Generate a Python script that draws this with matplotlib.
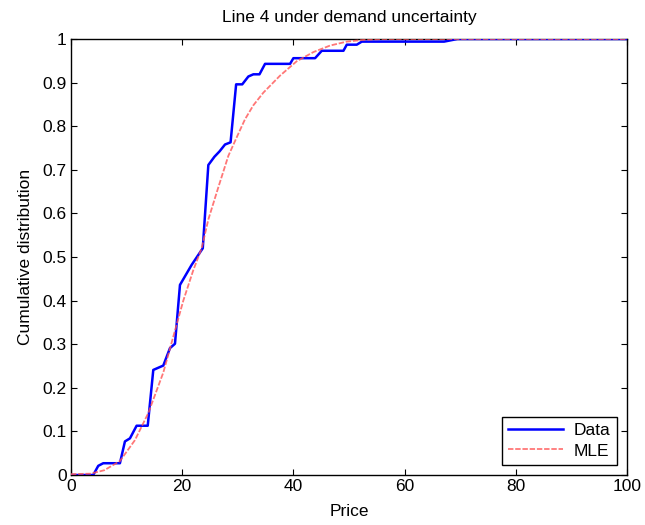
import matplotlib
matplotlib.use("Agg")
import matplotlib.pyplot as plt

plt.rcParams['font.family'] = ['Liberation Sans', 'DejaVu Sans']

# Empirical CDF (Data)
data_price = [0, 4.0, 4.9, 5.8, 8.8, 9.7, 10.6, 11.8, 13.8, 14.8, 16.6, 17.8, 18.7,
              19.6, 21.7, 23.7, 24.7, 25.8, 26.7, 27.7, 28.7, 29.7, 30.8, 31.9, 32.8,
              33.9, 34.9, 39.4, 40.0, 43.9, 45.1, 49.0, 49.6, 51.4, 52.3, 67.1, 69.5, 100]
data_cdf = [0, 0, 0.021, 0.027, 0.027, 0.077, 0.084, 0.113, 0.113, 0.241, 0.251, 0.291, 0.301,
            0.436, 0.482, 0.52, 0.711, 0.73, 0.742, 0.758, 0.763, 0.896, 0.896, 0.914, 0.919,
            0.919, 0.943, 0.943, 0.956, 0.956, 0.973, 0.973, 0.987, 0.987, 0.994, 0.994, 1.0, 1.0]

# Fitted CDF (MLE)
mle_price = [0, 3.5, 6.0, 8.8, 11.5, 13.9, 16.6, 19.0, 20.2, 22.0, 23.5, 24.7, 26.5,
             28.3, 30.0, 31.3, 32.8, 34.6, 37.6, 40.6, 43.6, 46.6, 49.6, 52.6, 56.0, 100]
mle_cdf = [0.002, 0.003, 0.011, 0.032, 0.08, 0.142, 0.235, 0.345, 0.40, 0.47, 0.52, 0.586, 0.66,
           0.732, 0.78, 0.816, 0.848, 0.877, 0.916, 0.949, 0.97, 0.985, 0.994, 0.998, 1.0, 1.0]

x_ticks = [0, 20, 40, 60, 80, 100]
y_ticks = [0, 0.1, 0.2, 0.3, 0.4, 0.5, 0.6, 0.7, 0.8, 0.9, 1]
y_labels = ['0', '0.1', '0.2', '0.3', '0.4', '0.5', '0.6', '0.7', '0.8', '0.9', '1']

FS = 12.5

fig = plt.figure(figsize=(6.45, 5.25), dpi=100)
ax = fig.add_axes([71/645, 50/525, 556/645, 436/525])

ax.plot(data_price, data_cdf, color='#0000ff', linewidth=1.8, label='Data', zorder=3)
ax.plot(mle_price, mle_cdf, color='#ff5555', linewidth=1.3, linestyle=(0, (3, 1)),
        label='MLE', alpha=0.8, zorder=4)

ax.set_xlim(0, 100)
ax.set_ylim(0, 1)
ax.set_xticks(x_ticks)
ax.set_xticklabels([str(t) for t in x_ticks])
ax.set_yticks(y_ticks)
ax.set_yticklabels(y_labels)
ax.tick_params(direction='in', top=True, right=True, labelsize=FS, length=4, width=0.8, pad=3)
for s in ax.spines.values():
    s.set_linewidth(1.0)

ax.set_xlabel('Price', fontsize=FS, labelpad=7)
ax.set_ylabel('Cumulative distribution', fontsize=FS, labelpad=7)
ax.set_title('Line 4 under demand uncertainty', fontsize=FS, pad=12)

leg = ax.legend(loc='lower right', fontsize=FS, fancybox=False, edgecolor='black',
                framealpha=1, borderaxespad=0.6, handlelength=3.2, borderpad=0.35,
                labelspacing=0.3, handletextpad=0.6)
leg.get_frame().set_linewidth(1.0)

fig.savefig('out.png', dpi=100)
